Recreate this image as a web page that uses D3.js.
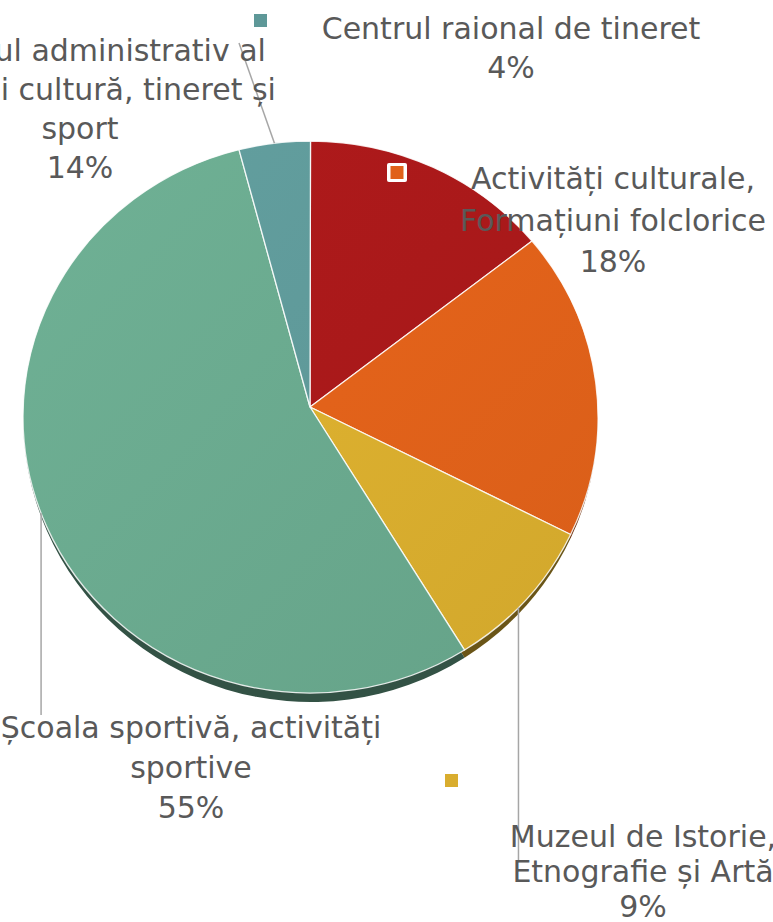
<!DOCTYPE html>
<html>
<head>
<meta charset="utf-8">
<script src="https://cdn.jsdelivr.net/npm/d3@7"></script>
<style>
  html, body { margin: 0; padding: 0; background: #ffffff; }
  svg { display: block; }
  .label { font-family: "DejaVu Sans", sans-serif; font-size: 30px; fill: #595959; }
  .leader { stroke: #a6a6a6; stroke-width: 1.5; fill: none; }
</style>
</head>
<body>
<svg id="chart" width="773" height="922"></svg>
<script>
'use strict';

// data (clockwise from 12 o'clock)
var categories = [
    'Aparatul administrativ al Direcției cultură, tineret și sport',
    'Activități culturale, Formațiuni folclorice',
    'Muzeul de Istorie, Etnografie și Artă',
    'Școala sportivă, activități sportive',
    'Centrul raional de tineret'
];
var values = [14, 18, 9, 55, 4];
var percentLabels = ['14%', '18%', '9%', '55%', '4%'];
var labelLines = [
    ['Aparatul administrativ al', 'Direcției cultură, tineret și', 'sport'],
    ['Activități culturale,', 'Formațiuni folclorice'],
    ['Muzeul de Istorie,', 'Etnografie și Artă'],
    ['Școala sportivă, activități', 'sportive'],
    ['Centrul raional de tineret']
];
var colors = ['#a8191a', '#e0611a', '#d9ad2e', '#69a88d', '#5e9898'];

// layout
var vx = 310, vy = 407;          // slice vertex
var cx = 310.5, cy = 417;        // ellipse centre of the tilted face
var rx = 287.5, ry = 276;
var depth = 9;

// label placement: centre x, first baseline, line step, marker box, leader
var labelPos = [
    { x: 80, y: 61, step: 39, leader: { t: 0.5, slice: 4, to: [239, 43] } },
    { x: 613, y: 189, step: 41.5, marker: [387, 163], framed: true },
    { x: 643, y: 847, step: 35, marker: [445, 774], leader: { t: 0.57, slice: 2, down: 860 } },
    { x: 191, y: 738, step: 40, leader: { t: 0.515, slice: 3, down: 715 } },
    { x: 511, y: 39, step: 39, marker: [254, 14] }
];

var svg = d3.select('#chart');
var defs = svg.append('defs');

var pie = d3.pie().sort(null).value(function(d) { return d; });
var arcs = pie(values);

function edgePoint(a, ery) {
    return [cx + rx * Math.sin(a), cy - (ery || ry) * Math.cos(a)];
}

function slicePath(d, ery) {
    ery = ery || ry;
    var p0 = edgePoint(d.startAngle, ery);
    var p1 = edgePoint(d.endAngle, ery);
    var large = (d.endAngle - d.startAngle) > Math.PI ? 1 : 0;
    return 'M' + vx + ',' + vy +
        'L' + p0[0] + ',' + p0[1] +
        'A' + rx + ',' + ery + ' 0 ' + large + ' 1 ' + p1[0] + ',' + p1[1] + 'Z';
}

// gradients, slightly lighter on the upper left
colors.forEach(function(c, i) {
    var g = defs.append('linearGradient')
        .attr('id', 'grad' + i)
        .attr('gradientUnits', 'userSpaceOnUse')
        .attr('x1', 20).attr('y1', 150).attr('x2', 600).attr('y2', 690);
    g.append('stop').attr('offset', '0%').attr('stop-color', d3.color(c).brighter(0.15));
    g.append('stop').attr('offset', '100%').attr('stop-color', d3.color(c).darker(0.1));
});

// the side of the disc: a taller ellipse, shown only below the centre line
defs.append('clipPath')
    .attr('id', 'sideClip')
    .append('rect')
    .attr('x', 0).attr('y', cy)
    .attr('width', 773).attr('height', 922 - cy);

svg.append('g')
    .attr('clip-path', 'url(#sideClip)')
    .selectAll('path')
    .data(arcs)
    .enter()
    .append('path')
    .attr('d', function(d) { return slicePath(d, ry + depth); })
    .attr('fill', function(d, i) { return d3.color(colors[i]).darker(2); });

// faces
svg.append('g')
    .selectAll('path')
    .data(arcs)
    .enter()
    .append('path')
    .attr('d', function(d) { return slicePath(d); })
    .attr('fill', function(d, i) { return 'url(#grad' + i + ')'; })
    .attr('stroke', 'rgba(255,255,255,0.85)')
    .attr('stroke-width', 1.3)
    .attr('stroke-linejoin', 'round');

// leader lines
var leaderGroup = svg.append('g');
labelPos.forEach(function(p) {
    if (!p.leader) return;
    var d = arcs[p.leader.slice];
    var a = d.startAngle + (d.endAngle - d.startAngle) * p.leader.t;
    var s = edgePoint(a);
    var e = p.leader.to ? p.leader.to : [s[0], p.leader.down];
    leaderGroup.append('line')
        .attr('class', 'leader')
        .attr('x1', s[0]).attr('y1', s[1])
        .attr('x2', e[0]).attr('y2', e[1]);
});

// markers
labelPos.forEach(function(p, i) {
    if (!p.marker) return;
    if (p.framed) {
        svg.append('rect')
            .attr('x', p.marker[0]).attr('y', p.marker[1])
            .attr('width', 20).attr('height', 19)
            .attr('rx', 2)
            .attr('fill', '#ffffff');
        svg.append('rect')
            .attr('x', p.marker[0] + 3.5).attr('y', p.marker[1] + 3)
            .attr('width', 13).attr('height', 13)
            .attr('fill', colors[i]);
    } else {
        svg.append('rect')
            .attr('x', p.marker[0]).attr('y', p.marker[1])
            .attr('width', 13).attr('height', 13)
            .attr('fill', colors[i]);
    }
});

// labels
labelPos.forEach(function(p, i) {
    var lines = labelLines[i].concat([percentLabels[i]]);
    var t = svg.append('text')
        .attr('class', 'label')
        .attr('text-anchor', 'middle');
    lines.forEach(function(l, j) {
        t.append('tspan')
            .attr('x', p.x)
            .attr('y', p.y + j * p.step)
            .text(l);
    });
});
</script>
</body>
</html>
